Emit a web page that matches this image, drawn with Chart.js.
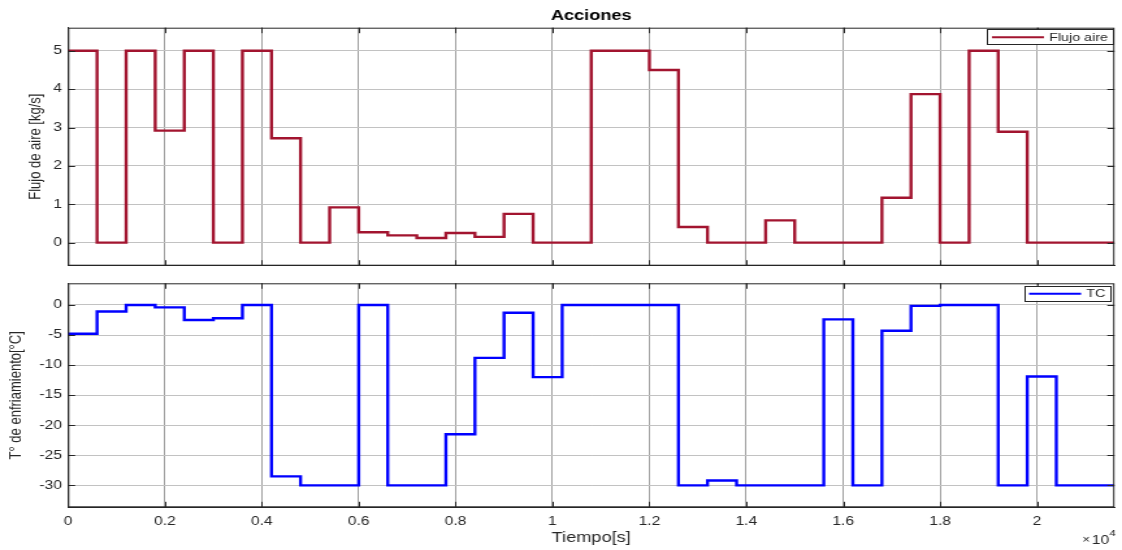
<!DOCTYPE html>
<html>
<head>
<meta charset="utf-8">
<script src="https://cdn.jsdelivr.net/npm/chart.js@4.4.0/dist/chart.umd.min.js"></script>
<style>
  body { margin: 0; background: #fff; }
  #wrap { position: relative; width: 1122px; height: 550px; overflow: hidden; }
  #wrap canvas { position: absolute; left: 0; }
</style>
</head>
<body>
<div id="wrap">
  <canvas id="chartFlujo" width="863" height="272" style="top:0;width:1122px;height:272px"></canvas>
  <canvas id="chartTC" width="863" height="278" style="top:272px;width:1122px;height:278px"></canvas>
</div>
<script>
// tiempo [s], cada escalón dura 600 s
const tiempo = [0, 600, 1200, 1800, 2400, 3000, 3600, 4200, 4800, 5400, 6000, 6600,
  7200, 7800, 8400, 9000, 9600, 10200, 10800, 11400, 12000, 12600, 13200, 13800,
  14400, 15000, 15600, 16200, 16800, 17400, 18000, 18600, 19200, 19800, 20400, 21000, 21600];

const flujoAire = [5, 0, 5, 2.92, 5, 0, 5, 2.72, 0, 0.92, 0.27, 0.19,
  0.12, 0.25, 0.15, 0.75, 0, 0, 5, 5, 4.5, 0.41, 0, 0,
  0.58, 0, 0, 0, 1.17, 3.87, 0, 5, 2.89, 0, 0, 0, 0];

const tc = [-4.8, -1.1, 0, -0.4, -2.5, -2.2, 0, -28.5, -30, -30, 0, -30,
  -30, -21.5, -8.8, -1.3, -12, 0, 0, 0, 0, -30, -29.2, -30,
  -30, -30, -2.4, -30, -4.3, -0.15, 0, 0, -30, -11.9, -30, -30, -30];

const xTicks = [0, 2000, 4000, 6000, 8000, 10000, 12000, 14000, 16000, 18000, 20000];
const flujoTicks = [0, 1, 2, 3, 4, 5];
const tcTicks = [-30, -25, -20, -15, -10, -5, 0];

Chart.defaults.font.family = "'Liberation Sans', Arial, sans-serif";
Chart.defaults.color = '#262626';

const ejeColor = '#262626';

// caja estilo matlab, ticks hacia adentro, leyenda dentro del área
const marcoMatlab = {
  id: 'marcoMatlab',
  afterDraw(chart, args, opts) {
    const { ctx, chartArea: a, scales } = chart;
    ctx.save();
    ctx.strokeStyle = ejeColor;
    ctx.lineWidth = 1;
    ctx.strokeRect(a.left + 0.5, a.top + 0.5, a.width - 1, a.height - 1);

    const len = 5.5;
    ctx.beginPath();
    scales.x.ticks.forEach(t => {
      const px = Math.round(scales.x.getPixelForValue(t.value)) + 0.5;
      ctx.moveTo(px, a.top); ctx.lineTo(px, a.top + len);
      ctx.moveTo(px, a.bottom); ctx.lineTo(px, a.bottom - len);
    });
    scales.y.ticks.forEach(t => {
      const py = Math.round(scales.y.getPixelForValue(t.value)) + 0.5;
      ctx.moveTo(a.left, py); ctx.lineTo(a.left + len, py);
      ctx.moveTo(a.right, py); ctx.lineTo(a.right - len, py);
    });
    ctx.stroke();

    // leyenda
    const ds = chart.data.datasets[0];
    ctx.font = "11px 'Liberation Sans', Arial, sans-serif";
    const tw = ctx.measureText(ds.label).width;
    const w = 3.8 + 40 + 4 + tw + 3.5;
    const h = 15;
    const bx = a.right - opts.right - w;
    const by = a.top + opts.top;
    ctx.fillStyle = '#fff';
    ctx.fillRect(bx, by, w, h);
    ctx.strokeStyle = ejeColor;
    ctx.strokeRect(Math.round(bx) + 0.5, Math.round(by) + 0.5, Math.round(w), h);
    ctx.strokeStyle = ds.borderColor;
    ctx.lineWidth = 2;
    ctx.beginPath();
    ctx.moveTo(bx + 3.8, by + h / 2 + 0.5);
    ctx.lineTo(bx + 43.8, by + h / 2 + 0.5);
    ctx.stroke();
    ctx.fillStyle = ejeColor;
    ctx.textBaseline = 'middle';
    ctx.textAlign = 'left';
    ctx.fillText(ds.label, bx + 47.8, by + h / 2 + 1);

    if (opts.exponente) {
      ctx.textAlign = 'right';
      ctx.font = "9px 'Liberation Sans', Arial, sans-serif";
      ctx.fillText('4', a.right + 1, 262);
      const w4 = ctx.measureText('4').width;
      ctx.font = "12px 'Liberation Sans', Arial, sans-serif";
      ctx.fillText('10', a.right + 1 - w4, 268.5);
      const w10 = ctx.measureText('10').width;
      ctx.font = "10px 'Liberation Sans', Arial, sans-serif";
      ctx.fillText('\u00d7', a.right - w4 - w10 - 0.5, 268.5);
    }
    ctx.restore();
  }
};

function escalaX(mostrarTicks) {
  return {
    type: 'linear',
    min: 0,
    max: 21600,
    afterBuildTicks: s => { s.ticks = xTicks.map(v => ({ value: v })); },
    afterFit: s => {
      s.height = mostrarTicks ? 42.7 : 0;
      s.paddingLeft = 0; s.paddingRight = 0;
    },
    grid: { color: '#a0a0a0', lineWidth: 1, drawTicks: false },
    border: { display: true, color: ejeColor, width: 1 },
    ticks: {
      display: mostrarTicks,
      padding: 7,
      font: { size: 12 },
      color: ejeColor,
      callback: v => String(v / 10000)
    },
    title: {
      display: mostrarTicks,
      text: 'Tiempo[s]',
      font: { size: 14 },
      color: ejeColor,
      padding: { top: 0, bottom: 3.3 }
    }
  };
}

function escalaY(min, max, marcas, titulo, ancho) {
  return {
    min: min,
    max: max,
    afterBuildTicks: s => { s.ticks = marcas.map(v => ({ value: v })); },
    afterFit: s => { s.width = ancho; s.paddingTop = 0; s.paddingBottom = 0; },
    grid: { color: '#c2c2c2', lineWidth: 1, drawTicks: false },
    border: { display: true, color: ejeColor, width: 1 },
    ticks: { padding: 4.6, font: { size: 12 }, color: ejeColor },
    title: {
      display: true,
      text: titulo,
      font: { size: 13 },
      color: ejeColor,
      padding: { top: 4, bottom: 0 }
    }
  };
}

new Chart(document.getElementById('chartFlujo').getContext('2d'), {
  type: 'line',
  data: {
    datasets: [{
      label: 'Flujo aire',
      data: tiempo.map((t, i) => ({ x: t, y: flujoAire[i] })),
      stepped: true,
      borderColor: '#A2142F',
      borderWidth: 2.4,
      pointRadius: 0,
      fill: false
    }]
  },
  options: {
    responsive: false,
    animation: false,
    events: [],
    layout: { padding: { left: 15.9, right: 5.8, top: 0, bottom: 6.3 } },
    plugins: {
      legend: { display: false },
      tooltip: { enabled: false },
      title: {
        display: true,
        text: 'Acciones',
        fullSize: false,
        color: '#000',
        font: { size: 14, weight: 'bold' },
        padding: { top: 7.6, bottom: 3.3 }
      },
      marcoMatlab: { right: 1.5, top: 1.6 }
    },
    scales: {
      x: escalaX(false),
      y: escalaY(-0.6, 5.6, flujoTicks, 'Flujo de aire [kg/s]', 52.3 - 15.9)
    }
  },
  plugins: [marcoMatlab]
});

new Chart(document.getElementById('chartTC').getContext('2d'), {
  type: 'line',
  data: {
    datasets: [{
      label: 'TC',
      data: tiempo.map((t, i) => ({ x: t, y: tc[i] })),
      stepped: true,
      borderColor: '#0000FF',
      borderWidth: 2.4,
      pointRadius: 0,
      fill: false
    }]
  },
  options: {
    responsive: false,
    animation: false,
    events: [],
    layout: { padding: { left: 1, right: 5.8, top: 11.3, bottom: 0 } },
    plugins: {
      legend: { display: false },
      tooltip: { enabled: false },
      marcoMatlab: { right: 3.5, top: 2.5, exponente: true }
    },
    scales: {
      x: escalaX(true),
      y: escalaY(-33.65, 3.6, tcTicks, 'T\u00b0 de enfriamiento[\u00b0C]', 52.3 - 1)
    }
  },
  plugins: [marcoMatlab]
});
</script>
</body>
</html>
